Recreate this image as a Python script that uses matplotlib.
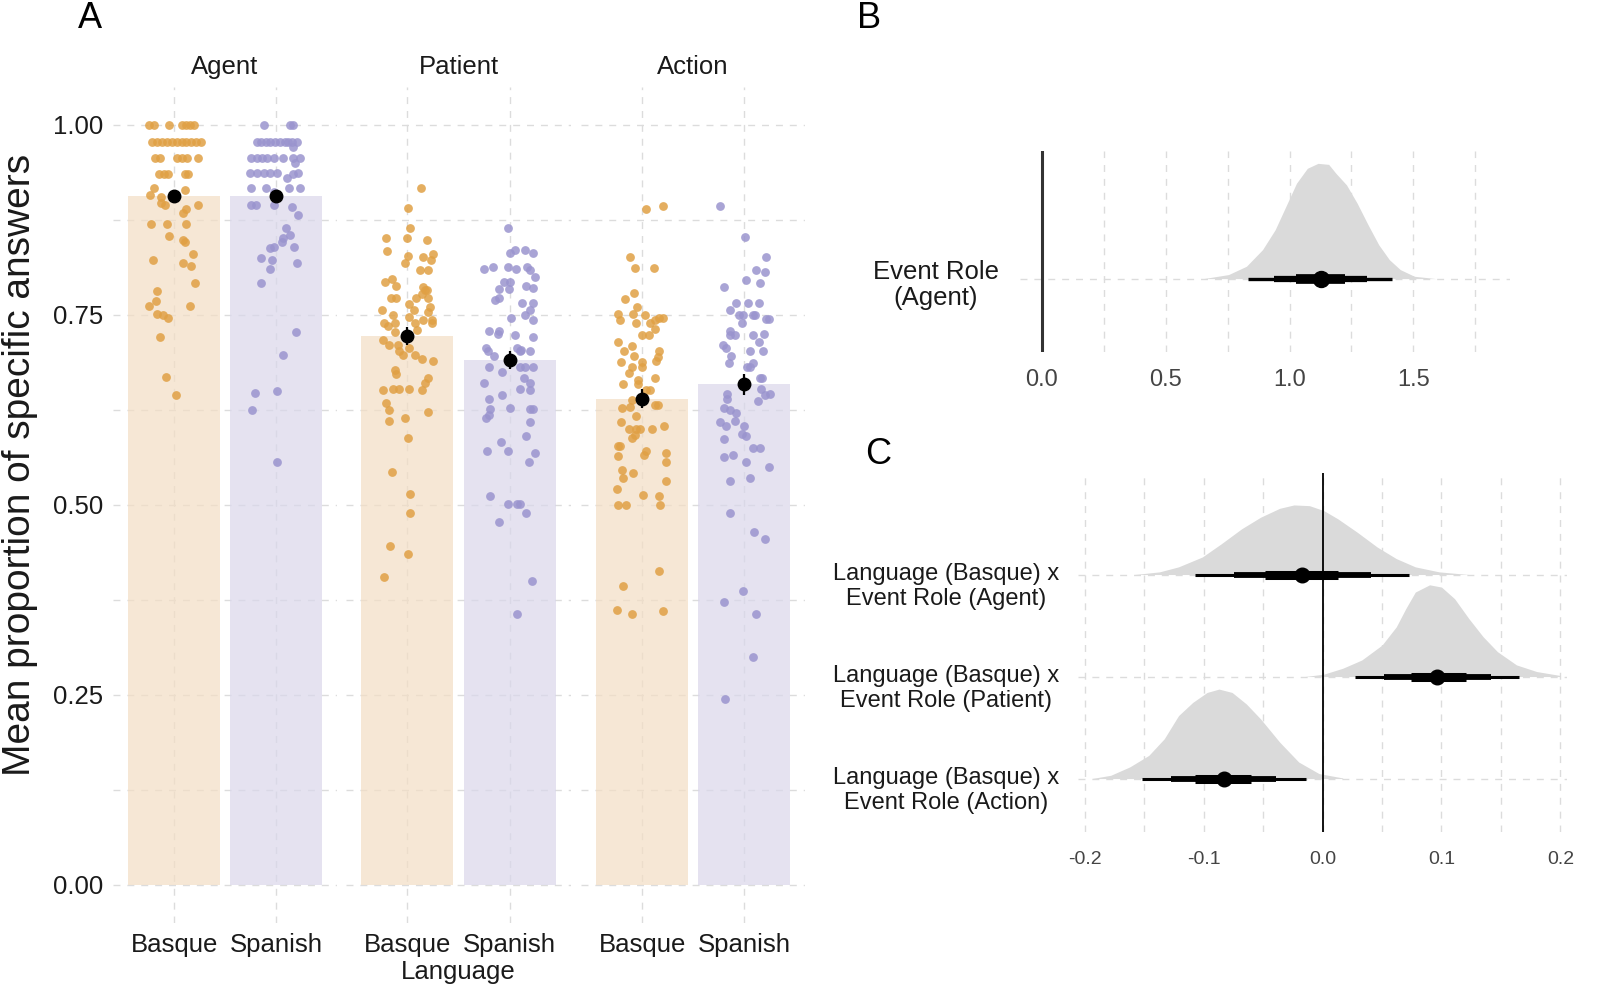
import matplotlib
matplotlib.use("Agg")
import matplotlib.pyplot as plt

plt.rcParams['font.family'] = ['Liberation Sans', 'DejaVu Sans']
plt.rcParams['axes.unicode_minus'] = False

# ---- Panel A data: jittered participant means (value, jitter offset) ----
roles = ["Agent", "Patient", "Action"]
languages = ["Basque", "Spanish"]

agent_basque_y = [
    1.00, 1.00, 1.00, 1.00, 1.00, 1.00, 1.00,
    0.978, 0.978, 0.978, 0.978, 0.978, 0.978, 0.978, 0.978, 0.978, 0.978, 0.978,
    0.957, 0.957, 0.957, 0.957, 0.957, 0.957,
    0.936, 0.936, 0.936, 0.936, 0.936,
    0.917, 0.908, 0.905, 0.914, 0.897, 0.895, 0.895, 0.884, 0.889,
    0.870, 0.870, 0.870, 0.854, 0.849, 0.846, 0.830, 0.822, 0.818, 0.815,
    0.792, 0.781, 0.768, 0.762, 0.762, 0.751, 0.750, 0.746, 0.721, 0.668, 0.645]
agent_basque_dx = [
    -0.25, -0.20, -0.05, 0.08, 0.12, 0.16, 0.20,
    -0.22, -0.17, -0.12, -0.07, -0.02, 0.03, 0.08, 0.12, 0.17, 0.22, 0.26,
    -0.19, -0.14, 0.03, 0.08, 0.13, 0.23,
    -0.15, -0.10, -0.06, 0.11, 0.14,
    -0.20, -0.24, -0.13, 0.11, -0.13, -0.09, 0.23, 0.09, 0.12,
    -0.23, -0.07, 0.12, -0.05, 0.09, 0.11, 0.19, -0.21, 0.09, 0.17,
    0.21, -0.17, -0.18, -0.25, 0.16, -0.17, -0.11, -0.06, -0.14, -0.08, 0.02]

agent_spanish_y = [
    1.00, 1.00, 1.00,
    0.978, 0.978, 0.978, 0.978, 0.978, 0.978, 0.978, 0.978, 0.978, 0.971, 0.977,
    0.957, 0.957, 0.957, 0.957, 0.957, 0.957, 0.957, 0.957, 0.950, 0.930,
    0.937, 0.937, 0.937, 0.937, 0.937, 0.937, 0.936,
    0.917, 0.917, 0.917, 0.917, 0.912,
    0.895, 0.895, 0.895, 0.892, 0.882,
    0.864, 0.851, 0.855, 0.846, 0.840, 0.838, 0.840, 0.825, 0.822, 0.818, 0.810,
    0.792, 0.728, 0.697, 0.647, 0.650, 0.625, 0.557]
agent_spanish_dx = [
    -0.12, 0.14, 0.17,
    -0.19, -0.15, -0.06, -0.01, 0.04, 0.09, 0.12, 0.16, 0.21, 0.17, -0.10,
    -0.24, -0.19, -0.14, -0.09, -0.02, 0.07, 0.17, 0.24, 0.19, 0.11,
    -0.25, -0.19, -0.12, -0.06, 0.01, 0.22, 0.17,
    -0.24, -0.10, 0.13, 0.24, -0.02,
    -0.24, -0.20, -0.02, 0.16, 0.22,
    0.10, 0.07, 0.14, 0.06, -0.02, -0.06, 0.18, -0.15, -0.04, 0.21, -0.06,
    -0.15, 0.20, 0.07, -0.21, 0.01, -0.23, 0.01]

patient_basque_y = [
    0.917, 0.891, 0.864, 0.851, 0.851, 0.849, 0.834,
    0.827, 0.826, 0.830, 0.823, 0.819, 0.809, 0.809,
    0.793, 0.797, 0.788, 0.787, 0.783, 0.783, 0.778, 0.772, 0.772, 0.772, 0.772,
    0.765, 0.757, 0.761, 0.754, 0.757, 0.750, 0.740, 0.735, 0.739,
    0.748, 0.743, 0.743, 0.739, 0.740, 0.730,
    0.728, 0.717, 0.711, 0.710, 0.702, 0.697, 0.706, 0.697, 0.692, 0.689,
    0.678, 0.673, 0.667, 0.660, 0.651, 0.651, 0.652, 0.652, 0.652,
    0.634, 0.625, 0.610, 0.623, 0.614, 0.588, 0.544,
    0.515, 0.489, 0.446, 0.436, 0.405]
patient_basque_dx = [
    0.13, 0.01, 0.03, -0.21, 0.00, 0.19, -0.20,
    0.01, 0.15, 0.25, 0.23, -0.02, 0.12, 0.20,
    -0.22, -0.15, -0.11, 0.15, 0.17, 0.19, 0.14, 0.08, 0.20, -0.16, -0.11,
    0.02, 0.06, 0.22, 0.20, -0.25, -0.14, -0.23, -0.19, -0.12,
    0.02, 0.15, 0.24, 0.24, 0.07, 0.09,
    -0.12, -0.24, -0.18, -0.09, -0.08, -0.04, 0.02, 0.07, 0.14, 0.25,
    -0.12, -0.11, 0.20, 0.17, 0.14, -0.24, -0.14, -0.08, 0.02,
    -0.21, -0.18, -0.18, 0.20, -0.02, 0.01, -0.15,
    0.03, 0.03, -0.17, 0.01, -0.23]

patient_spanish_y = [
    0.864, 0.831, 0.835, 0.835, 0.831,
    0.810, 0.813, 0.813, 0.810, 0.813, 0.809, 0.800,
    0.793, 0.793, 0.784, 0.784, 0.788, 0.786,
    0.770, 0.772, 0.766, 0.766,
    0.746, 0.750, 0.756, 0.744,
    0.729, 0.729, 0.725, 0.724, 0.721,
    0.703, 0.706, 0.696, 0.706, 0.704, 0.702, 0.703,
    0.681, 0.675, 0.681, 0.681, 0.681,
    0.660, 0.667, 0.660, 0.653, 0.651,
    0.639, 0.645, 0.614, 0.618, 0.626, 0.628, 0.626, 0.626, 0.609,
    0.591, 0.583, 0.571, 0.571, 0.568, 0.556,
    0.512, 0.501, 0.501, 0.501, 0.489, 0.477,
    0.400, 0.356]
patient_spanish_dx = [
    -0.02, 0.00, 0.05, 0.15, 0.23,
    -0.25, -0.16, -0.02, 0.06, 0.17, 0.20, 0.25,
    -0.06, 0.00, -0.10, -0.01, 0.16, 0.23,
    -0.14, -0.10, 0.12, 0.23,
    0.01, 0.15, 0.20, 0.23,
    -0.20, -0.10, -0.11, 0.05, 0.23,
    -0.21, -0.23, -0.15, 0.07, 0.11, 0.20, 0.10,
    -0.20, -0.07, 0.10, 0.15, 0.23,
    -0.25, 0.14, 0.20, 0.10, 0.20,
    -0.20, -0.07, -0.23, -0.20, -0.19, 0.00, 0.20, 0.23, 0.20,
    0.16, -0.08, -0.22, -0.02, 0.25, 0.19,
    -0.19, -0.02, 0.07, 0.10, 0.16, -0.10,
    0.22, 0.07]

action_basque_y = [
    0.889, 0.893, 0.826, 0.812, 0.812, 0.771, 0.779, 0.761,
    0.751, 0.744, 0.751, 0.750, 0.739, 0.743, 0.746, 0.746, 0.739,
    0.724, 0.724, 0.732,
    0.714, 0.709, 0.703, 0.696, 0.702, 0.695, 0.689,
    0.688, 0.688, 0.682, 0.682, 0.674, 0.667, 0.659, 0.665, 0.659,
    0.651, 0.651, 0.638, 0.629, 0.628, 0.631, 0.631, 0.617, 0.609,
    0.600, 0.600, 0.600, 0.600, 0.588, 0.592, 0.604,
    0.578, 0.578, 0.565, 0.566, 0.571, 0.568, 0.556,
    0.546, 0.535, 0.542, 0.532, 0.521, 0.513, 0.512,
    0.500, 0.500, 0.500,
    0.413, 0.394, 0.362, 0.357, 0.360]
action_basque_dx = [
    0.04, 0.21, -0.12, -0.07, 0.12, -0.17, -0.08, -0.05,
    -0.24, -0.22, -0.09, 0.03, 0.08, 0.13, 0.17, 0.21, -0.06,
    0.00, 0.07, 0.13,
    -0.24, -0.10, -0.18, -0.08, 0.17, 0.16, 0.14,
    -0.21, 0.00, 0.00, -0.10, -0.13, 0.13, -0.19, -0.04, -0.04,
    0.04, 0.08, -0.10, -0.12, -0.20, 0.13, 0.16, -0.06, -0.21,
    -0.13, -0.06, -0.02, 0.10, -0.10, -0.07, 0.22,
    -0.24, -0.22, -0.24, 0.02, 0.04, 0.23, 0.23,
    -0.20, -0.19, -0.09, 0.23, -0.25, 0.01, 0.17,
    -0.24, -0.16, 0.18,
    0.17, -0.19, -0.25, -0.10, 0.21]

action_spanish_y = [
    0.894, 0.852, 0.826, 0.809, 0.807, 0.796, 0.787, 0.792,
    0.766, 0.766, 0.766, 0.757,
    0.750, 0.750, 0.750, 0.750, 0.745, 0.745, 0.739,
    0.729, 0.724, 0.724, 0.724, 0.725, 0.714, 0.702, 0.702, 0.710, 0.707,
    0.696, 0.687, 0.682, 0.682, 0.687, 0.667, 0.667,
    0.646, 0.639, 0.652, 0.645, 0.646, 0.637,
    0.628, 0.625, 0.621, 0.610, 0.609, 0.604, 0.604, 0.594, 0.591,
    0.587, 0.575, 0.575, 0.550, 0.563, 0.566, 0.556, 0.532, 0.535,
    0.489, 0.465, 0.455, 0.387, 0.373, 0.357, 0.300, 0.245]
action_spanish_dx = [
    -0.23, 0.01, 0.22, 0.12, 0.21, 0.02, -0.20, 0.16,
    -0.08, 0.04, 0.15, -0.14,
    -0.05, -0.01, 0.09, 0.11, 0.22, 0.25, -0.02,
    -0.14, -0.14, -0.09, 0.09, 0.20, 0.15, 0.19, 0.06, -0.21, -0.18,
    -0.13, -0.15, 0.03, 0.06, 0.09, 0.16, 0.18,
    -0.17, -0.17, 0.17, 0.21, 0.26, 0.14,
    -0.20, -0.14, -0.08, -0.09, -0.23, -0.18, 0.00, -0.02, 0.02,
    -0.20, 0.09, 0.16, 0.25, -0.20, -0.11, 0.02, -0.14, 0.06,
    -0.14, 0.10, 0.21, -0.01, -0.20, 0.12, 0.09, -0.19]

# group means and error half-widths (Basque, Spanish) per role
agent_means = [0.907, 0.907]
patient_means = [0.722, 0.691]
action_means = [0.640, 0.659]
agent_err = [0.006, 0.006]
patient_err = [0.012, 0.012]
action_err = [0.013, 0.014]

# ---- Panel B: posterior of Event Role (Agent) ----
b_dens_x = [0.653, 0.754, 0.826, 0.891, 0.942, 0.985, 1.028, 1.072, 1.115, 1.158,
            1.187, 1.230, 1.273, 1.317, 1.360, 1.403, 1.447, 1.504, 1.591]
b_dens_h = [0.0, 0.035, 0.107, 0.251, 0.424, 0.625, 0.827, 0.957, 1.0, 0.991,
            0.914, 0.813, 0.654, 0.467, 0.294, 0.164, 0.078, 0.02, 0.0]
b_median = 1.126
b_int_95 = [0.834, 1.415]
b_int_80 = [0.939, 1.314]
b_int_50 = [1.028, 1.223]

# ---- Panel C: interaction posteriors ----
c_labels = ["Language (Basque) x\nEvent Role (Agent)",
            "Language (Basque) x\nEvent Role (Patient)",
            "Language (Basque) x\nEvent Role (Action)"]
c_agent_x = [-0.158, -0.137, -0.121, -0.101, -0.085, -0.068, -0.052, -0.036, -0.024,
             -0.011, 0.001, 0.013, 0.029, 0.046, 0.062, 0.078, 0.098, 0.123]
c_agent_h = [0.0, 0.026, 0.075, 0.172, 0.302, 0.448, 0.562, 0.649, 0.682,
             0.675, 0.627, 0.545, 0.416, 0.269, 0.156, 0.075, 0.026, 0.0]
c_patient_x = [-0.015, 0.001, 0.017, 0.033, 0.050, 0.062, 0.070, 0.078, 0.090,
               0.100, 0.111, 0.123, 0.135, 0.147, 0.163, 0.180, 0.200]
c_patient_h = [0.0, 0.023, 0.081, 0.162, 0.308, 0.487, 0.666, 0.828, 0.899,
               0.877, 0.763, 0.568, 0.390, 0.244, 0.114, 0.049, 0.01]
c_action_x = [-0.194, -0.178, -0.162, -0.146, -0.133, -0.121, -0.109, -0.097,
              -0.087, -0.076, -0.064, -0.052, -0.036, -0.020, -0.003, 0.017]
c_action_h = [0.0, 0.032, 0.114, 0.227, 0.390, 0.617, 0.747, 0.844,
              0.877, 0.844, 0.731, 0.584, 0.357, 0.162, 0.049, 0.006]
c_medians = [-0.017, 0.096, -0.083]
c_int_95 = [[-0.107, 0.073], [0.027, 0.165], [-0.152, -0.014]]
c_int_80 = [[-0.074, 0.041], [0.052, 0.142], [-0.127, -0.039]]
c_int_50 = [[-0.048, 0.013], [0.074, 0.121], [-0.107, -0.060]]

W, H = 1600, 990
fig = plt.figure(figsize=(16, 9.9), dpi=100)


def px_axes(x0, y0, x1, y1):
    return fig.add_axes([x0 / W, 1 - y1 / H, (x1 - x0) / W, (y1 - y0) / H])


GRID = dict(color="#DCDCDC", linestyle=(0, (5, 5)), linewidth=1.0)
bar_colors = ["#F3DEC4", "#DAD7EB"]
point_colors = ["#E0A044", "#9A94CE"]


def clean(ax):
    for s in ax.spines.values():
        s.set_visible(False)
    ax.tick_params(length=0)


# ---- Panel A ----
panel_x = [(113, 337), (346, 571), (581, 805)]
points = [
    [(agent_basque_y, agent_basque_dx), (agent_spanish_y, agent_spanish_dx)],
    [(patient_basque_y, patient_basque_dx), (patient_spanish_y, patient_spanish_dx)],
    [(action_basque_y, action_basque_dx), (action_spanish_y, action_spanish_dx)],
]
means = [agent_means, patient_means, action_means]
errs = [agent_err, patient_err, action_err]

for i, role in enumerate(roles):
    ax = px_axes(panel_x[i][0], 87, panel_x[i][1], 923)
    clean(ax)
    ax.set_xlim(-0.6, 1.6)
    ax.set_ylim(-0.05, 1.05)
    ax.set_yticks([0, 0.25, 0.5, 0.75, 1.0])
    ax.set_yticks([0.125, 0.375, 0.625, 0.875], minor=True)
    ax.tick_params(which="minor", length=0)
    ax.set_xticks([0, 1])
    ax.set_xticklabels(languages, fontsize=18.5, color="#1a1a1a")
    ax.tick_params(axis="x", pad=7)
    ax.grid(True, which="both", axis="y", **GRID)
    ax.grid(True, which="major", axis="x", **GRID)
    ax.set_axisbelow(True)
    if i == 0:
        ax.set_yticklabels(["0.00", "0.25", "0.50", "0.75", "1.00"],
                           fontsize=18.5, color="#1a1a1a")
        ax.tick_params(axis="y", pad=7)
    else:
        ax.set_yticklabels([])
    ax.bar([0, 1], means[i], width=0.9, color=bar_colors, alpha=0.7, zorder=1)
    for j in range(2):
        ys, dxs = points[i][j]
        xs = [j + d for d in dxs]
        ax.scatter(xs, ys, s=40, color=point_colors[j], alpha=0.85,
                   linewidths=0, zorder=2)
    ax.errorbar([0, 1], means[i], yerr=errs[i], fmt="o", color="black",
                markersize=9, elinewidth=1.6, capsize=0, zorder=3)
    fig.text((panel_x[i][0] + panel_x[i][1]) / 2 / W, 1 - 67 / H, role,
             fontsize=18.5, color="#1a1a1a", ha="center", va="center")

fig.text(458 / W, 1 - 972 / H, "Language", fontsize=18.5, color="#1a1a1a",
         ha="center", va="center")
fig.text(20 / W, 1 - 465 / H, "Mean proportion of specific answers",
         fontsize=28, rotation=90, ha="center", va="center", color="#1a1a1a")

# ---- Panel B ----
axb = px_axes(1019.5, 151, 1510, 352)
clean(axb)
axb.set_xlim(-0.09, 1.89)
axb.set_ylim(-0.637, 1.107)
axb.set_xticks([0, 0.5, 1.0, 1.5])
axb.set_xticklabels(["0.0", "0.5", "1.0", "1.5"], fontsize=17, color="#444444")
axb.set_xticks([0.25, 0.75, 1.25, 1.75], minor=True)
axb.tick_params(which="minor", length=0)
axb.tick_params(axis="x", pad=12)
axb.set_yticks([0])
axb.set_yticklabels([])
axb.grid(True, which="both", **GRID)
axb.set_axisbelow(True)
axb.fill_between(b_dens_x, 0, b_dens_h, color="#DADADA", linewidth=0, zorder=2)
axb.axvline(0, color="#333333", linewidth=2.2, zorder=3)
axb.plot(b_int_95, [0, 0], color="black", linewidth=2.4, solid_capstyle="butt", zorder=4)
axb.plot(b_int_80, [0, 0], color="black", linewidth=4.5, solid_capstyle="butt", zorder=4)
axb.plot(b_int_50, [0, 0], color="black", linewidth=7, solid_capstyle="butt", zorder=4)
axb.plot([b_median], [0], "o", color="black", markersize=11.5, zorder=5)
fig.text(936 / W, 1 - 285 / H, "Event Role\n(Agent)", fontsize=18.5,
         color="#1a1a1a", ha="center", va="center", multialignment="center",
         linespacing=1.15)

# ---- Panel C ----
axc = px_axes(1078, 472.5, 1567, 831.6)
clean(axc)
axc.set_xlim(-0.2055, 0.2055)
axc.set_ylim(0.48, 4.0)
axc.set_xticks([-0.2, -0.1, 0.0, 0.1, 0.2])
axc.set_xticklabels(["-0.2", "-0.1", "0.0", "0.1", "0.2"], fontsize=14, color="#444444")
axc.set_xticks([-0.15, -0.05, 0.05, 0.15], minor=True)
axc.tick_params(which="minor", length=0)
axc.tick_params(axis="x", pad=14)
rows = [3, 2, 1]
axc.set_yticks(rows)
axc.set_yticklabels([])
axc.grid(True, which="both", **GRID)
axc.set_axisbelow(True)
dens = [(c_agent_x, c_agent_h), (c_patient_x, c_patient_h), (c_action_x, c_action_h)]
for k, r in enumerate(rows):
    dx, dh = dens[k]
    axc.fill_between(dx, r, [r + h for h in dh], color="#DADADA", linewidth=0, zorder=2)
axc.axvline(0, color="black", linewidth=1.3, zorder=3)
for k, r in enumerate(rows):
    axc.plot(c_int_95[k], [r, r], color="black", linewidth=2.2, solid_capstyle="butt", zorder=4)
    axc.plot(c_int_80[k], [r, r], color="black", linewidth=4.2, solid_capstyle="butt", zorder=4)
    axc.plot(c_int_50[k], [r, r], color="black", linewidth=6.5, solid_capstyle="butt", zorder=4)
    axc.plot([c_medians[k]], [r], "o", color="black", markersize=10.5, zorder=5)
row_px = [574.5, 676.5, 778.6]
for k, lab in enumerate(c_labels):
    fig.text(946 / W, 1 - (row_px[k] + 12) / H, lab, fontsize=17,
             color="#1a1a1a", ha="center", va="center", multialignment="center",
             linespacing=1.15)

# panel letters
fig.text(90 / W, 1 - 18 / H, "A", fontsize=26, ha="center", va="center")
fig.text(869 / W, 1 - 18 / H, "B", fontsize=26, ha="center", va="center")
fig.text(878 / W, 1 - 455 / H, "C", fontsize=26, ha="center", va="center")

fig.savefig("out.png", dpi=100, facecolor="white")
